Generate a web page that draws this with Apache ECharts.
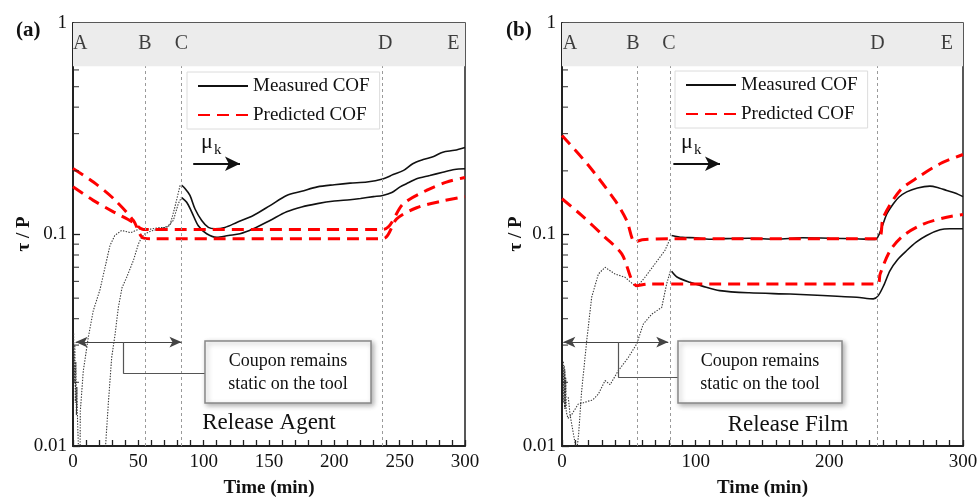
<!DOCTYPE html>
<html>
<head>
<meta charset="utf-8">
<script src="https://cdn.jsdelivr.net/npm/echarts@6/dist/echarts.min.js"></script>
<style>
  html, body { margin: 0; background: #fff; }
  #chart { width: 977px; height: 498px; }
</style>
</head>
<body>
<div id="chart"></div>
<script>
// phase letters in the grey strip and the dotted phase dividers
const phaseNames = ['A', 'B', 'C', 'D', 'E'];
const phaseTimeA = [5.5, 55, 83, 239, 291];
const phaseTimeB = [6, 53, 80, 236, 288];
const dividerTimeA = [55, 83, 237];
const dividerTimeB = [56, 81, 236];
const stripBottom = 0.625;
const yMinorTicks = [0.02, 0.03, 0.04, 0.05, 0.06, 0.07, 0.08, 0.09, 0.2, 0.3, 0.4, 0.5, 0.6];

// (a) Release Agent  -- [time (min), tau/P]
const measuredA1 = [[83, 0.171], [85.7, 0.165], [89.5, 0.153], [93.4, 0.132], [98.5, 0.1165], [103.6, 0.108], [108.7, 0.1064], [116.3, 0.108], [125.3, 0.114], [138, 0.123], [150.8, 0.137], [163.5, 0.153], [175, 0.160], [187, 0.168], [200, 0.172], [212, 0.175], [225, 0.177], [237, 0.183], [245, 0.192], [253, 0.201], [260, 0.216], [268, 0.226], [276, 0.234], [283, 0.245], [292, 0.250], [300, 0.258]];
const measuredA2 = [[83, 0.150], [87, 0.142], [90.8, 0.128], [95.9, 0.110], [102.3, 0.1008], [110, 0.097], [118.9, 0.099], [127.8, 0.1008], [138, 0.1064], [150.8, 0.1165], [163.5, 0.128], [175, 0.135], [187, 0.140], [200, 0.144], [212, 0.146], [220, 0.148], [230, 0.151], [237, 0.153], [244, 0.158], [250, 0.1676], [257, 0.176], [263, 0.1835], [273, 0.190], [283, 0.197], [292, 0.203], [300, 0.2045]];
const predictedA1 = [[0, 0.205], [15.6, 0.177], [30.9, 0.148], [46.2, 0.1165], [53, 0.097], [60, 0.0955], [237, 0.0955], [247.7, 0.1186], [263, 0.1338], [281, 0.1433], [300, 0.151]];
const predictedA2 = [[0, 0.168], [15.5, 0.145], [30.9, 0.128], [46.2, 0.114], [54, 0.1056], [237, 0.1056], [252.7, 0.1397], [270.5, 0.1616], [285.8, 0.177], [300, 0.186]];
const staticA1 = [[0.5, 0.034], [1, 0.02], [1.4, 0.03], [1.8, 0.016], [2.2, 0.025], [2.6, 0.014], [3, 0.019], [3.5, 0.013], [4.5, 0.0085], [5.4, 0.009], [5.6, 0.0146], [7.9, 0.0227], [11.7, 0.0326], [15.5, 0.0436], [20.7, 0.055], [28.3, 0.0887], [32, 0.099], [37.2, 0.1045], [44, 0.102], [51.3, 0.1064], [59, 0.106], [66.6, 0.108], [71.7, 0.108], [76.8, 0.1165], [80.6, 0.140], [83, 0.150]];
const staticA2 = [[24, 0.0085], [25, 0.0102], [27, 0.0158], [29.6, 0.0262], [32, 0.033], [34.7, 0.0452], [37.5, 0.056], [41.1, 0.0628], [46.2, 0.0753], [50, 0.09], [52.6, 0.097], [55.1, 0.1008], [60, 0.104], [66.6, 0.1064], [74.2, 0.1103], [78, 0.135], [82, 0.171]];

// (b) Release Film
const measuredB1 = [[82, 0.099], [90, 0.097], [100, 0.0965], [110, 0.095], [120, 0.0955], [140, 0.096], [160, 0.095], [180, 0.0965], [200, 0.096], [220, 0.0955], [234.2, 0.0947], [239.2, 0.108], [243, 0.125], [247.9, 0.1397], [252, 0.150], [257.9, 0.159], [266, 0.166], [275.3, 0.1693], [282, 0.166], [287.8, 0.1616], [294, 0.157], [300, 0.151]];
const measuredB2 = [[82, 0.067], [86, 0.063], [95.8, 0.0594], [105, 0.057], [118, 0.0543], [140, 0.053], [170.6, 0.0523], [195, 0.0515], [220.5, 0.0505], [232.9, 0.0496], [236.6, 0.0514], [241, 0.058], [245.4, 0.0675], [251, 0.076], [257.9, 0.084], [265, 0.092], [272.8, 0.099], [282.8, 0.1052], [290, 0.1064], [300, 0.1064]];
const predictedB1 = [[0, 0.294], [19.7, 0.2125], [39.7, 0.1449], [48.4, 0.1165], [54.6, 0.092], [60, 0.0945], [80, 0.0955], [236, 0.0955], [240.4, 0.1207], [252.9, 0.1616], [266.6, 0.187], [282.8, 0.216], [300, 0.239]];
const predictedB2 = [[0, 0.1476], [14.7, 0.1231], [32.2, 0.097], [44.7, 0.081], [55.9, 0.0573], [64.6, 0.0584], [236, 0.0584], [238, 0.065], [245.5, 0.084], [255.4, 0.0989], [270.3, 0.112], [287.8, 0.1207], [300, 0.1244]];
const staticB1 = [[4.7, 0.017], [6, 0.0141], [9, 0.011], [11, 0.0094], [12.5, 0.0115], [14.7, 0.0182], [18.5, 0.0315], [22.2, 0.0505], [27.2, 0.065], [32.2, 0.070], [39.7, 0.065], [47.1, 0.0628], [55.9, 0.0563], [62.1, 0.0628], [69.6, 0.0727], [77, 0.084], [80.8, 0.0954]];
const staticB2 = [[1, 0.025], [1.3, 0.016], [1.6, 0.024], [1.9, 0.015], [2.2, 0.023], [2.5, 0.015], [2.8, 0.021], [3.2, 0.0145], [4.5, 0.0135], [7.3, 0.0141], [12.2, 0.0158], [16, 0.016], [19.7, 0.0163], [23, 0.0165], [27.2, 0.0176], [32.2, 0.0204], [36, 0.0195], [42.1, 0.0227], [49.6, 0.0262], [55.9, 0.0304], [60.8, 0.0377], [67.1, 0.042], [74.6, 0.0452], [78.3, 0.0584], [81, 0.067]];

const serif = '"Liberation Serif", "Times New Roman", serif';
const ink = '#111';

function hideLine(ax, z, markLine) {
  return Object.assign({ type: 'line', data: [], silent: true, z: z, markLine: Object.assign({
    silent: true, animation: false, label: { show: false }, emphasis: { disabled: true }
  }, markLine) }, ax);
}

function panelSeries(i, p) {
  const ax = { xAxisIndex: i, yAxisIndex: i };
  const list = [];
  // grey strip on top
  list.push(Object.assign({ type: 'line', data: [], silent: true, z: -1,
    markArea: { silent: true, itemStyle: { color: '#ececec' }, data: [[{ yAxis: stripBottom }, { yAxis: 1 }]] } }, ax));
  list.push(hideLine(ax, 1, { symbol: ['none', 'none'],
    lineStyle: { color: '#9a9a9a', width: 1, type: [3, 3] },
    data: p.dividers.map(x => [{ coord: [x, 0.01] }, { coord: [x, stripBottom] }]) }));
  // "coupon remains static" arrow and bracket
  list.push(hideLine(ax, 3, { symbol: ['arrow', 'arrow'], symbolSize: [8, 12],
    lineStyle: { color: '#444', width: 1.2, type: 'solid' },
    data: [[{ coord: [p.staticArrow[0], 0.031] }, { coord: [p.staticArrow[1], 0.031] }]] }));
  list.push(hideLine(ax, 3, { symbol: ['none', 'none'],
    lineStyle: { color: '#555', width: 1.2, type: 'solid' },
    data: [
      [{ coord: [p.bracket[0], 0.031] }, { coord: [p.bracket[0], p.bracket[2]] }],
      [{ coord: [p.bracket[0], p.bracket[2]] }, { coord: [p.bracket[1], p.bracket[2]] }]
    ] }));
  // mu_k arrow
  list.push(hideLine(ax, 3, { symbol: ['none', 'arrow'], symbolSize: [11, 15],
    lineStyle: { color: ink, width: 1.8, type: 'solid' },
    data: [[{ coord: [p.muArrow[0], 0.216] }, { coord: [p.muArrow[1], 0.216] }]] }));
  // phase letters
  list.push(Object.assign({ type: 'scatter', silent: true, z: 4, symbolSize: 1,
    itemStyle: { color: 'rgba(0,0,0,0)' },
    label: { show: true, position: 'inside', formatter: q => q.value[2],
      fontFamily: serif, fontSize: 20, color: ink },
    data: p.phases.map((x, k) => [x, 0.8, phaseNames[k]]) }, ax));
  // log minor ticks on the y axis
  list.push(Object.assign({ type: 'scatter', silent: true, z: 5, clip: false,
    symbol: 'rect', symbolSize: [6, 1.2], symbolOffset: [3, 0],
    itemStyle: { color: '#222' },
    data: yMinorTicks.map(v => [0, v]) }, ax));
  p.statics.forEach(d => list.push(Object.assign({ type: 'line', name: 'static', data: d,
    symbol: 'none', silent: true, z: 2,
    lineStyle: { color: '#3a3a3a', width: 1.1, type: [1.4, 1.4] } }, ax)));
  p.measured.forEach(d => list.push(Object.assign({ type: 'line', name: 'Measured COF', data: d,
    symbol: 'none', smooth: 0.3, silent: true, z: 3,
    itemStyle: { color: ink }, lineStyle: { color: ink, width: 1.6 } }, ax)));
  p.predicted.forEach(d => list.push(Object.assign({ type: 'line', name: 'Predicted COF', data: d,
    symbol: 'none', smooth: 0.3, silent: true, z: 4,
    itemStyle: { color: '#ff0000' }, lineStyle: { color: '#ff0000', width: 3, type: [12, 7] } }, ax)));
  return list;
}

function xAxis(i, interval, split) {
  return {
    type: 'value', gridIndex: i, min: 0, max: 300, interval: interval,
    name: 'Time (min)', nameLocation: 'middle', nameGap: 33,
    nameTextStyle: { fontFamily: serif, fontSize: 19, fontWeight: 'bold', color: ink },
    axisLine: { show: true, lineStyle: { color: '#222', width: 2 } },
    axisTick: { show: true, inside: true, length: 6, lineStyle: { color: '#222', width: 1.3 } },
    minorTick: { show: true, splitNumber: split, length: 6, lineStyle: { color: '#222', width: 1.3 } },
    axisLabel: { fontFamily: serif, fontSize: 19, color: ink, margin: 7 },
    splitLine: { show: false }
  };
}

function yAxis(i) {
  return {
    type: 'log', logBase: 10, gridIndex: i, min: 0.01, max: 1,
    axisLine: { show: true, lineStyle: { color: '#222', width: 2 } },
    axisTick: { show: true, inside: true, length: 7, lineStyle: { color: '#222', width: 1.3 } },
    axisLabel: { fontFamily: serif, fontSize: 19, color: ink, margin: 6 },
    splitLine: { show: false }
  };
}

function legend(left, top) {
  return {
    left: left, top: top, orient: 'vertical', selectedMode: false,
    data: ['Measured COF', 'Predicted COF'],
    itemWidth: 50, itemHeight: 14, itemGap: 9,
    padding: [4, 10, 4, 10],
    itemStyle: { opacity: 0, borderWidth: 0 },
    backgroundColor: '#fff', borderColor: '#dcdcdc', borderWidth: 1,
    textStyle: { fontFamily: serif, fontSize: 19, color: ink, lineHeight: 20 }
  };
}

function txt(x, y, text, font, extra) {
  return Object.assign({ type: 'text', x: x, y: y, z: 100,
    style: Object.assign({ text: text, font: font, fill: ink }, extra || {}) });
}

function yTitle(x) {
  const t = txt(x, 234, 'τ / P', 'bold 19px ' + serif, { align: 'center', verticalAlign: 'middle' });
  t.rotation = Math.PI / 2;
  return t;
}

function note(x, y, w, h) {
  return [
    { type: 'rect', z: 100, shape: { x: x, y: y, width: w, height: h },
      style: { fill: '#fff', stroke: '#888', lineWidth: 1.5, shadowBlur: 5,
        shadowOffsetX: 2, shadowOffsetY: 2, shadowColor: 'rgba(0,0,0,0.3)' } },
    txt(x + w / 2, y + h / 2 + 1, 'Coupon remains\nstatic on the tool', '18px ' + serif,
      { align: 'center', verticalAlign: 'middle', lineHeight: 23 })
  ];
}

const chart = echarts.init(document.getElementById('chart'), null, { renderer: 'canvas' });
chart.setOption({
  animation: false,
  backgroundColor: '#fff',
  grid: [
    { left: 73, top: 23, width: 392, height: 423, show: true, borderColor: '#222', borderWidth: 1.5, backgroundColor: 'transparent', outerBoundsMode: 'none' },
    { left: 562, top: 23, width: 401, height: 423, show: true, borderColor: '#222', borderWidth: 1.5, backgroundColor: 'transparent', outerBoundsMode: 'none' }
  ],
  xAxis: [xAxis(0, 50, 5), xAxis(1, 100, 10)],
  yAxis: [yAxis(0), yAxis(1)],
  legend: [legend(187, 72), legend(675, 71)],
  series: panelSeries(0, {
    phases: phaseTimeA, dividers: dividerTimeA,
    staticArrow: [2, 83], bracket: [38.5, 101, 0.022], muArrow: [92, 127.8],
    statics: [staticA1, staticA2], measured: [measuredA1, measuredA2], predicted: [predictedA1, predictedA2]
  }).concat(panelSeries(1, {
    phases: phaseTimeB, dividers: dividerTimeB,
    staticArrow: [1, 79.5], bracket: [42, 87, 0.0211], muArrow: [83.3, 118.2],
    statics: [staticB1, staticB2], measured: [measuredB1, measuredB2], predicted: [predictedB1, predictedB2]
  })),
  graphic: [
    txt(16, 20, '(a)', 'bold 21px ' + serif),
    txt(506, 20, '(b)', 'bold 21px ' + serif),
    yTitle(24),
    yTitle(516),
    txt(201, 131, 'μ', '22px ' + serif),
    txt(214, 143, 'k', '15px ' + serif),
    txt(681, 131, 'μ', '22px ' + serif),
    txt(694, 143, 'k', '15px ' + serif),
    txt(269, 423, 'Release Agent', '23px ' + serif, { align: 'center', verticalAlign: 'middle' }),
    txt(788, 425, 'Release Film', '23px ' + serif, { align: 'center', verticalAlign: 'middle' })
  ].concat(note(205, 341, 166, 62), note(678, 341, 164, 62))
});
</script>
</body>
</html>
